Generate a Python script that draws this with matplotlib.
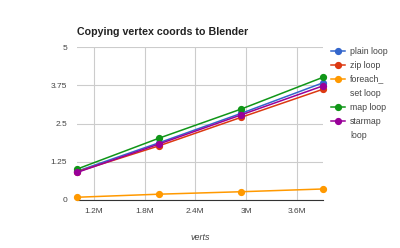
import numpy as np
import matplotlib.pyplot as plt
from matplotlib.lines import Line2D
from matplotlib.ticker import FuncFormatter

plt.rcParams['font.family'] = ['Liberation Sans', 'DejaVu Sans']

# data (millions of verts, seconds)
verts = [1.0, 1.97, 2.94, 3.91]
plain_loop = [0.94, 1.87, 2.83, 3.83]
zip_loop = [0.92, 1.77, 2.70, 3.62]
foreach_set = [0.09, 0.19, 0.27, 0.36]
map_loop = [1.01, 2.02, 2.97, 4.01]
starmap_loop = [0.90, 1.83, 2.78, 3.73]

series = [
    ("plain loop", plain_loop, "#3366cc"),
    ("zip loop", zip_loop, "#dc3912"),
    ("foreach_\nset loop", foreach_set, "#ff9900"),
    ("map loop", map_loop, "#109618"),
    ("starmap\nloop", starmap_loop, "#990099"),
]
yticks = [0, 1.25, 2.5, 3.75, 5]
xticks = [1.2, 1.8, 2.4, 3.0, 3.6]

W, H = 400, 248
fig = plt.figure(figsize=(W / 100, H / 100), dpi=100)
ax = fig.add_axes([77 / W, 1 - 200 / H, 246 / W, 153 / H])

for label, vals, col in series:
    ax.plot(verts, vals, color=col, lw=1.1, marker="o", ms=4.2, label=label,
            zorder=3, clip_on=False)

ax.set_xlim(verts[0], verts[-1])
ax.set_ylim(0, 5)
ax.set_yticks(yticks)
ax.set_yticklabels(["0", "1.25", "2.5", "3.75", "5"])
ax.set_xticks(xticks)
ax.xaxis.set_major_formatter(FuncFormatter(lambda v, p: f"{v:g}M"))
ax.grid(True, color="#cccccc", lw=0.8, zorder=0)
for s in ["top", "right", "left"]:
    ax.spines[s].set_visible(False)
ax.spines["bottom"].set_color("#333333")
ax.spines["bottom"].set_linewidth(0.8)
ax.tick_params(length=0, labelsize=6, labelcolor="#444444", pad=7)
ax.tick_params(axis="x", pad=6)

ax.set_xlabel("verts", fontsize=6.5, style="italic", color="#444444", labelpad=13)
fig.text(77 / W, 1 - 35 / H, "Copying vertex coords to Blender", fontsize=7.7,
         fontweight="bold", color="#222222")

# legend a mano: el marcador va con la primera línea de cada etiqueta
fila = 0
for label, vals, col in series:
    y = 1 - (51 + 14 * fila) / H
    fig.add_artist(Line2D([331 / W, 345 / W], [y, y], color=col, lw=1.1))
    fig.add_artist(Line2D([338 / W], [y], color=col, marker="o", ms=4.2, lw=0))
    for linea in label.split("\n"):
        y = 1 - (51 + 14 * fila) / H
        fig.text(350 / W, y, linea, fontsize=6.3, color="#444444", va="center")
        fila += 1

fig.savefig("out.png", dpi=100)
